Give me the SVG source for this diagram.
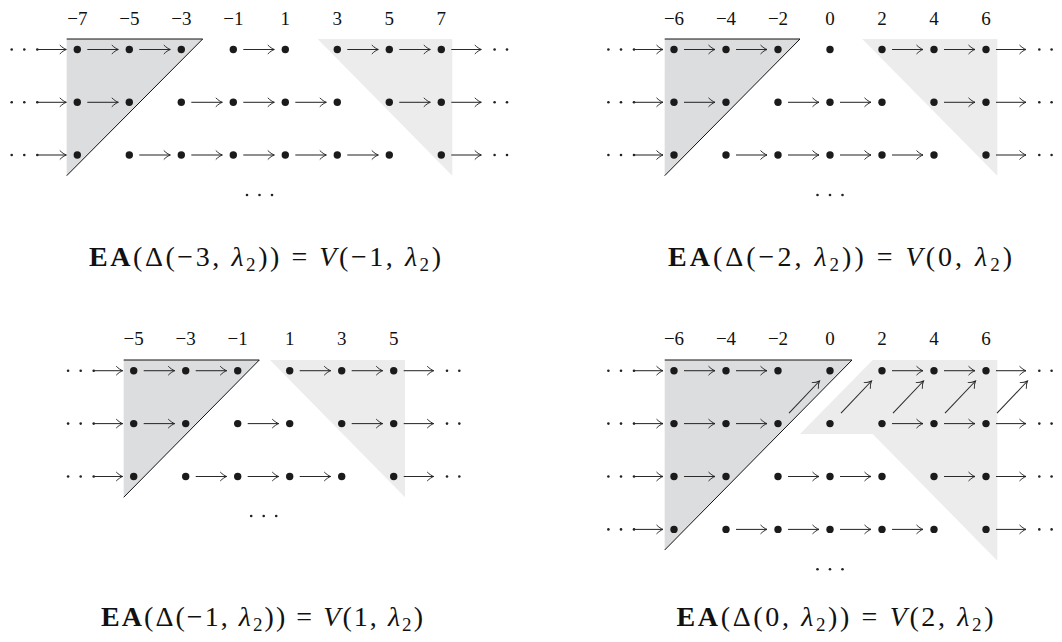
<svg xmlns="http://www.w3.org/2000/svg" width="1062" height="642" viewBox="0 0 1062 642">
<defs>
<marker id="ah" markerUnits="userSpaceOnUse" markerWidth="10" markerHeight="10" refX="0" refY="0" orient="auto" overflow="visible">
<path d="M -6.5,-4.5 C -4.4,-2.3 -1.7,-0.6 0,0 C -1.7,0.6 -4.4,2.3 -6.5,4.5" fill="none" stroke="#222" stroke-width="0.95"/>
</marker>
<style>
.dot{fill:#1b1b1b}
.sd{fill:#222}
.ar{stroke:#2a2a2a;stroke-width:1.05;fill:none;marker-end:url(#ah)}
.dk{fill:#dcdddf}
.lt{fill:#ebeceb}
.edge{stroke:#111;stroke-width:1;fill:none}
.lab{font-family:"Liberation Serif",serif;font-size:19px;fill:#111;text-anchor:middle}
.cap{font-family:"Liberation Serif",serif;font-size:28px;fill:#111;text-anchor:middle}
.b{font-weight:bold}
.i{font-style:italic}
</style>
</defs>
<rect width="1062" height="642" fill="#fff"/>

<g id="regions">
<polygon class="dk" points="66.7,39 202.7,39 66.7,175.7"/>
<polyline class="edge" points="66.7,39 202.7,39 66.7,175.7"/>
<polygon class="lt" points="317.7,39 452.3,39 452.3,175.7"/>
<polygon class="dk" points="664.7,39 800,39 664.7,175.7"/>
<polyline class="edge" points="664.7,39 800,39 664.7,175.7"/>
<polygon class="lt" points="862.3,39 997.3,39 997.3,175.7"/>
<polygon class="dk" points="123.7,360 259.3,360 123.7,497.3"/>
<polyline class="edge" points="123.7,360 259.3,360 123.7,497.3"/>
<polygon class="lt" points="270,360 405,360 405,497.3"/>
<polygon class="dk" points="664.7,360 852,360 664.7,550"/>
<polyline class="edge" points="664.7,360 852,360 664.7,550"/>
<polygon class="lt" points="872.7,360 997.3,360 997.3,560.7 872.7,434 800,434"/>
</g>

<g id="labels">
<text class="lab" x="77.3" y="25">−7</text><text class="lab" x="129.3" y="25">−5</text><text class="lab" x="181.3" y="25">−3</text><text class="lab" x="233.3" y="25">−1</text><text class="lab" x="285.3" y="25">1</text><text class="lab" x="337.3" y="25">3</text><text class="lab" x="389.3" y="25">5</text><text class="lab" x="441.3" y="25">7</text>
<text class="lab" x="674" y="25">−6</text><text class="lab" x="726" y="25">−4</text><text class="lab" x="778" y="25">−2</text><text class="lab" x="830" y="25">0</text><text class="lab" x="882" y="25">2</text><text class="lab" x="934" y="25">4</text><text class="lab" x="986" y="25">6</text>
<text class="lab" x="133.7" y="345">−5</text><text class="lab" x="185.7" y="345">−3</text><text class="lab" x="237.7" y="345">−1</text><text class="lab" x="289.7" y="345">1</text><text class="lab" x="341.7" y="345">3</text><text class="lab" x="393.7" y="345">5</text>
<text class="lab" x="674" y="345">−6</text><text class="lab" x="726" y="345">−4</text><text class="lab" x="778" y="345">−2</text><text class="lab" x="830" y="345">0</text><text class="lab" x="882" y="345">2</text><text class="lab" x="934" y="345">4</text><text class="lab" x="986" y="345">6</text>
</g>

<g id="cdots">
<circle class="sd" cx="11.7" cy="49.5" r="1.3"/><circle class="sd" cx="24.3" cy="49.5" r="1.3"/><circle class="sd" cx="37.3" cy="49.5" r="1.3"/>
<circle class="sd" cx="11.7" cy="102.3" r="1.3"/><circle class="sd" cx="24.3" cy="102.3" r="1.3"/><circle class="sd" cx="37.3" cy="102.3" r="1.3"/>
<circle class="sd" cx="11.7" cy="155" r="1.3"/><circle class="sd" cx="24.3" cy="155" r="1.3"/><circle class="sd" cx="37.3" cy="155" r="1.3"/>
<circle class="sd" cx="494.6" cy="49.5" r="1.3"/><circle class="sd" cx="507" cy="49.5" r="1.3"/>
<circle class="sd" cx="494.6" cy="102.3" r="1.3"/><circle class="sd" cx="507" cy="102.3" r="1.3"/>
<circle class="sd" cx="494.6" cy="155" r="1.3"/><circle class="sd" cx="507" cy="155" r="1.3"/>
<circle class="sd" cx="247" cy="195" r="1.3"/><circle class="sd" cx="259.5" cy="195" r="1.3"/><circle class="sd" cx="272" cy="195" r="1.3"/>

<circle class="sd" cx="608.4" cy="49.5" r="1.3"/><circle class="sd" cx="621" cy="49.5" r="1.3"/><circle class="sd" cx="634" cy="49.5" r="1.3"/>
<circle class="sd" cx="608.4" cy="102.3" r="1.3"/><circle class="sd" cx="621" cy="102.3" r="1.3"/><circle class="sd" cx="634" cy="102.3" r="1.3"/>
<circle class="sd" cx="608.4" cy="155" r="1.3"/><circle class="sd" cx="621" cy="155" r="1.3"/><circle class="sd" cx="634" cy="155" r="1.3"/>
<circle class="sd" cx="1039.3" cy="49.5" r="1.3"/><circle class="sd" cx="1051.6" cy="49.5" r="1.3"/>
<circle class="sd" cx="1039.3" cy="102.3" r="1.3"/><circle class="sd" cx="1051.6" cy="102.3" r="1.3"/>
<circle class="sd" cx="1039.3" cy="155" r="1.3"/><circle class="sd" cx="1051.6" cy="155" r="1.3"/>
<circle class="sd" cx="817.5" cy="195" r="1.3"/><circle class="sd" cx="830" cy="195" r="1.3"/><circle class="sd" cx="842.5" cy="195" r="1.3"/>

<circle class="sd" cx="68.1" cy="370.7" r="1.3"/><circle class="sd" cx="80.7" cy="370.7" r="1.3"/><circle class="sd" cx="93.7" cy="370.7" r="1.3"/>
<circle class="sd" cx="68.1" cy="423.6" r="1.3"/><circle class="sd" cx="80.7" cy="423.6" r="1.3"/><circle class="sd" cx="93.7" cy="423.6" r="1.3"/>
<circle class="sd" cx="68.1" cy="476.5" r="1.3"/><circle class="sd" cx="80.7" cy="476.5" r="1.3"/><circle class="sd" cx="93.7" cy="476.5" r="1.3"/>
<circle class="sd" cx="447" cy="370.7" r="1.3"/><circle class="sd" cx="459.3" cy="370.7" r="1.3"/>
<circle class="sd" cx="447" cy="423.6" r="1.3"/><circle class="sd" cx="459.3" cy="423.6" r="1.3"/>
<circle class="sd" cx="447" cy="476.5" r="1.3"/><circle class="sd" cx="459.3" cy="476.5" r="1.3"/>
<circle class="sd" cx="251.2" cy="516" r="1.3"/><circle class="sd" cx="263.7" cy="516" r="1.3"/><circle class="sd" cx="276.2" cy="516" r="1.3"/>

<circle class="sd" cx="608.4" cy="370.7" r="1.3"/><circle class="sd" cx="621" cy="370.7" r="1.3"/><circle class="sd" cx="634" cy="370.7" r="1.3"/>
<circle class="sd" cx="608.4" cy="423.6" r="1.3"/><circle class="sd" cx="621" cy="423.6" r="1.3"/><circle class="sd" cx="634" cy="423.6" r="1.3"/>
<circle class="sd" cx="608.4" cy="476.5" r="1.3"/><circle class="sd" cx="621" cy="476.5" r="1.3"/><circle class="sd" cx="634" cy="476.5" r="1.3"/>
<circle class="sd" cx="608.4" cy="529.4" r="1.3"/><circle class="sd" cx="621" cy="529.4" r="1.3"/><circle class="sd" cx="634" cy="529.4" r="1.3"/>
<circle class="sd" cx="1039.3" cy="370.7" r="1.3"/><circle class="sd" cx="1051.6" cy="370.7" r="1.3"/>
<circle class="sd" cx="1039.3" cy="423.6" r="1.3"/><circle class="sd" cx="1051.6" cy="423.6" r="1.3"/>
<circle class="sd" cx="1039.3" cy="476.5" r="1.3"/><circle class="sd" cx="1051.6" cy="476.5" r="1.3"/>
<circle class="sd" cx="1039.3" cy="529.4" r="1.3"/><circle class="sd" cx="1051.6" cy="529.4" r="1.3"/>
<circle class="sd" cx="817.5" cy="569.3" r="1.3"/><circle class="sd" cx="830" cy="569.3" r="1.3"/><circle class="sd" cx="842.5" cy="569.3" r="1.3"/>
</g>

<g id="connectors">
<path class="ar" d="M37.3,49.5H66.3"/><path class="ar" d="M87.3,49.5H118.3"/><path class="ar" d="M139.3,49.5H170.3"/><path class="ar" d="M243.3,49.5H274.3"/><path class="ar" d="M347.3,49.5H378.3"/><path class="ar" d="M399.3,49.5H430.3"/><path class="ar" d="M451.3,49.5H481.3"/>
<path class="ar" d="M37.3,102.3H66.3"/><path class="ar" d="M87.3,102.3H118.3"/><path class="ar" d="M191.3,102.3H222.3"/><path class="ar" d="M243.3,102.3H274.3"/><path class="ar" d="M295.3,102.3H326.3"/><path class="ar" d="M399.3,102.3H430.3"/><path class="ar" d="M451.3,102.3H481.3"/>
<path class="ar" d="M37.3,155H66.3"/><path class="ar" d="M139.3,155H170.3"/><path class="ar" d="M191.3,155H222.3"/><path class="ar" d="M243.3,155H274.3"/><path class="ar" d="M295.3,155H326.3"/><path class="ar" d="M347.3,155H378.3"/><path class="ar" d="M451.3,155H481.3"/>
<path class="ar" d="M634,49.5H663"/><path class="ar" d="M684,49.5H715"/><path class="ar" d="M736,49.5H767"/><path class="ar" d="M892,49.5H923"/><path class="ar" d="M944,49.5H975"/><path class="ar" d="M996,49.5H1026"/>
<path class="ar" d="M634,102.3H663"/><path class="ar" d="M684,102.3H715"/><path class="ar" d="M788,102.3H819"/><path class="ar" d="M840,102.3H871"/><path class="ar" d="M944,102.3H975"/><path class="ar" d="M996,102.3H1026"/>
<path class="ar" d="M634,155H663"/><path class="ar" d="M736,155H767"/><path class="ar" d="M788,155H819"/><path class="ar" d="M840,155H871"/><path class="ar" d="M892,155H923"/><path class="ar" d="M996,155H1026"/>
<path class="ar" d="M93.7,370.7H122.7"/><path class="ar" d="M143.7,370.7H174.7"/><path class="ar" d="M195.7,370.7H226.7"/><path class="ar" d="M299.7,370.7H330.7"/><path class="ar" d="M351.7,370.7H382.7"/><path class="ar" d="M403.7,370.7H433.7"/>
<path class="ar" d="M93.7,423.6H122.7"/><path class="ar" d="M143.7,423.6H174.7"/><path class="ar" d="M247.7,423.6H278.7"/><path class="ar" d="M351.7,423.6H382.7"/><path class="ar" d="M403.7,423.6H433.7"/>
<path class="ar" d="M93.7,476.5H122.7"/><path class="ar" d="M195.7,476.5H226.7"/><path class="ar" d="M247.7,476.5H278.7"/><path class="ar" d="M299.7,476.5H330.7"/><path class="ar" d="M403.7,476.5H433.7"/>
<path class="ar" d="M634,370.7H663"/><path class="ar" d="M684,370.7H715"/><path class="ar" d="M736,370.7H767"/><path class="ar" d="M892,370.7H923"/><path class="ar" d="M944,370.7H975"/><path class="ar" d="M996,370.7H1026"/>
<path class="ar" d="M634,423.6H663"/><path class="ar" d="M684,423.6H715"/><path class="ar" d="M736,423.6H767"/><path class="ar" d="M892,423.6H923"/><path class="ar" d="M944,423.6H975"/><path class="ar" d="M996,423.6H1026"/>
<path class="ar" d="M634,476.5H663"/><path class="ar" d="M684,476.5H715"/><path class="ar" d="M788,476.5H819"/><path class="ar" d="M840,476.5H871"/><path class="ar" d="M944,476.5H975"/><path class="ar" d="M996,476.5H1026"/>
<path class="ar" d="M634,529.4H663"/><path class="ar" d="M736,529.4H767"/><path class="ar" d="M788,529.4H819"/><path class="ar" d="M840,529.4H871"/><path class="ar" d="M892,529.4H923"/><path class="ar" d="M996,529.4H1026"/>
<path class="ar" d="M789,413.2L819.5,381"/><path class="ar" d="M841,413.2L871.5,381"/><path class="ar" d="M893,413.2L923.5,381"/><path class="ar" d="M945,413.2L975.5,381"/><path class="ar" d="M997,413.2L1027.5,381"/>
</g>

<g id="p1-r1-m7"><circle class="dot" cx="77.3" cy="49.5" r="3.7"/></g><g id="p1-r1-m5"><circle class="dot" cx="129.3" cy="49.5" r="3.7"/></g><g id="p1-r1-m3"><circle class="dot" cx="181.3" cy="49.5" r="3.7"/></g><g id="p1-r1-m1"><circle class="dot" cx="233.3" cy="49.5" r="3.7"/></g><g id="p1-r1-1"><circle class="dot" cx="285.3" cy="49.5" r="3.7"/></g><g id="p1-r1-3"><circle class="dot" cx="337.3" cy="49.5" r="3.7"/></g><g id="p1-r1-5"><circle class="dot" cx="389.3" cy="49.5" r="3.7"/></g><g id="p1-r1-7"><circle class="dot" cx="441.3" cy="49.5" r="3.7"/></g>
<g id="p1-r2-m7"><circle class="dot" cx="77.3" cy="102.3" r="3.7"/></g><g id="p1-r2-m5"><circle class="dot" cx="129.3" cy="102.3" r="3.7"/></g><g id="p1-r2-m3"><circle class="dot" cx="181.3" cy="102.3" r="3.7"/></g><g id="p1-r2-m1"><circle class="dot" cx="233.3" cy="102.3" r="3.7"/></g><g id="p1-r2-1"><circle class="dot" cx="285.3" cy="102.3" r="3.7"/></g><g id="p1-r2-3"><circle class="dot" cx="337.3" cy="102.3" r="3.7"/></g><g id="p1-r2-5"><circle class="dot" cx="389.3" cy="102.3" r="3.7"/></g><g id="p1-r2-7"><circle class="dot" cx="441.3" cy="102.3" r="3.7"/></g>
<g id="p1-r3-m7"><circle class="dot" cx="77.3" cy="155" r="3.7"/></g><g id="p1-r3-m5"><circle class="dot" cx="129.3" cy="155" r="3.7"/></g><g id="p1-r3-m3"><circle class="dot" cx="181.3" cy="155" r="3.7"/></g><g id="p1-r3-m1"><circle class="dot" cx="233.3" cy="155" r="3.7"/></g><g id="p1-r3-1"><circle class="dot" cx="285.3" cy="155" r="3.7"/></g><g id="p1-r3-3"><circle class="dot" cx="337.3" cy="155" r="3.7"/></g><g id="p1-r3-5"><circle class="dot" cx="389.3" cy="155" r="3.7"/></g><g id="p1-r3-7"><circle class="dot" cx="441.3" cy="155" r="3.7"/></g>

<g id="p2-r1-m6"><circle class="dot" cx="674" cy="49.5" r="3.7"/></g><g id="p2-r1-m4"><circle class="dot" cx="726" cy="49.5" r="3.7"/></g><g id="p2-r1-m2"><circle class="dot" cx="778" cy="49.5" r="3.7"/></g><g id="p2-r1-0"><circle class="dot" cx="830" cy="49.5" r="3.7"/></g><g id="p2-r1-2"><circle class="dot" cx="882" cy="49.5" r="3.7"/></g><g id="p2-r1-4"><circle class="dot" cx="934" cy="49.5" r="3.7"/></g><g id="p2-r1-6"><circle class="dot" cx="986" cy="49.5" r="3.7"/></g>
<g id="p2-r2-m6"><circle class="dot" cx="674" cy="102.3" r="3.7"/></g><g id="p2-r2-m4"><circle class="dot" cx="726" cy="102.3" r="3.7"/></g><g id="p2-r2-m2"><circle class="dot" cx="778" cy="102.3" r="3.7"/></g><g id="p2-r2-0"><circle class="dot" cx="830" cy="102.3" r="3.7"/></g><g id="p2-r2-2"><circle class="dot" cx="882" cy="102.3" r="3.7"/></g><g id="p2-r2-4"><circle class="dot" cx="934" cy="102.3" r="3.7"/></g><g id="p2-r2-6"><circle class="dot" cx="986" cy="102.3" r="3.7"/></g>
<g id="p2-r3-m6"><circle class="dot" cx="674" cy="155" r="3.7"/></g><g id="p2-r3-m4"><circle class="dot" cx="726" cy="155" r="3.7"/></g><g id="p2-r3-m2"><circle class="dot" cx="778" cy="155" r="3.7"/></g><g id="p2-r3-0"><circle class="dot" cx="830" cy="155" r="3.7"/></g><g id="p2-r3-2"><circle class="dot" cx="882" cy="155" r="3.7"/></g><g id="p2-r3-4"><circle class="dot" cx="934" cy="155" r="3.7"/></g><g id="p2-r3-6"><circle class="dot" cx="986" cy="155" r="3.7"/></g>

<g id="p3-r1-m5"><circle class="dot" cx="133.7" cy="370.7" r="3.7"/></g><g id="p3-r1-m3"><circle class="dot" cx="185.7" cy="370.7" r="3.7"/></g><g id="p3-r1-m1"><circle class="dot" cx="237.7" cy="370.7" r="3.7"/></g><g id="p3-r1-1"><circle class="dot" cx="289.7" cy="370.7" r="3.7"/></g><g id="p3-r1-3"><circle class="dot" cx="341.7" cy="370.7" r="3.7"/></g><g id="p3-r1-5"><circle class="dot" cx="393.7" cy="370.7" r="3.7"/></g>
<g id="p3-r2-m5"><circle class="dot" cx="133.7" cy="423.6" r="3.7"/></g><g id="p3-r2-m3"><circle class="dot" cx="185.7" cy="423.6" r="3.7"/></g><g id="p3-r2-m1"><circle class="dot" cx="237.7" cy="423.6" r="3.7"/></g><g id="p3-r2-1"><circle class="dot" cx="289.7" cy="423.6" r="3.7"/></g><g id="p3-r2-3"><circle class="dot" cx="341.7" cy="423.6" r="3.7"/></g><g id="p3-r2-5"><circle class="dot" cx="393.7" cy="423.6" r="3.7"/></g>
<g id="p3-r3-m5"><circle class="dot" cx="133.7" cy="476.5" r="3.7"/></g><g id="p3-r3-m3"><circle class="dot" cx="185.7" cy="476.5" r="3.7"/></g><g id="p3-r3-m1"><circle class="dot" cx="237.7" cy="476.5" r="3.7"/></g><g id="p3-r3-1"><circle class="dot" cx="289.7" cy="476.5" r="3.7"/></g><g id="p3-r3-3"><circle class="dot" cx="341.7" cy="476.5" r="3.7"/></g><g id="p3-r3-5"><circle class="dot" cx="393.7" cy="476.5" r="3.7"/></g>

<g id="p4-r1-m6"><circle class="dot" cx="674" cy="370.7" r="3.7"/></g><g id="p4-r1-m4"><circle class="dot" cx="726" cy="370.7" r="3.7"/></g><g id="p4-r1-m2"><circle class="dot" cx="778" cy="370.7" r="3.7"/></g><g id="p4-r1-0"><circle class="dot" cx="830" cy="370.7" r="3.7"/></g><g id="p4-r1-2"><circle class="dot" cx="882" cy="370.7" r="3.7"/></g><g id="p4-r1-4"><circle class="dot" cx="934" cy="370.7" r="3.7"/></g><g id="p4-r1-6"><circle class="dot" cx="986" cy="370.7" r="3.7"/></g>
<g id="p4-r2-m6"><circle class="dot" cx="674" cy="423.6" r="3.7"/></g><g id="p4-r2-m4"><circle class="dot" cx="726" cy="423.6" r="3.7"/></g><g id="p4-r2-m2"><circle class="dot" cx="778" cy="423.6" r="3.7"/></g><g id="p4-r2-0"><circle class="dot" cx="830" cy="423.6" r="3.7"/></g><g id="p4-r2-2"><circle class="dot" cx="882" cy="423.6" r="3.7"/></g><g id="p4-r2-4"><circle class="dot" cx="934" cy="423.6" r="3.7"/></g><g id="p4-r2-6"><circle class="dot" cx="986" cy="423.6" r="3.7"/></g>
<g id="p4-r3-m6"><circle class="dot" cx="674" cy="476.5" r="3.7"/></g><g id="p4-r3-m4"><circle class="dot" cx="726" cy="476.5" r="3.7"/></g><g id="p4-r3-m2"><circle class="dot" cx="778" cy="476.5" r="3.7"/></g><g id="p4-r3-0"><circle class="dot" cx="830" cy="476.5" r="3.7"/></g><g id="p4-r3-2"><circle class="dot" cx="882" cy="476.5" r="3.7"/></g><g id="p4-r3-4"><circle class="dot" cx="934" cy="476.5" r="3.7"/></g><g id="p4-r3-6"><circle class="dot" cx="986" cy="476.5" r="3.7"/></g>
<g id="p4-r4-m6"><circle class="dot" cx="674" cy="529.4" r="3.7"/></g><g id="p4-r4-m4"><circle class="dot" cx="726" cy="529.4" r="3.7"/></g><g id="p4-r4-m2"><circle class="dot" cx="778" cy="529.4" r="3.7"/></g><g id="p4-r4-0"><circle class="dot" cx="830" cy="529.4" r="3.7"/></g><g id="p4-r4-2"><circle class="dot" cx="882" cy="529.4" r="3.7"/></g><g id="p4-r4-4"><circle class="dot" cx="934" cy="529.4" r="3.7"/></g><g id="p4-r4-6"><circle class="dot" cx="986" cy="529.4" r="3.7"/></g>

<g id="captions">
<text class="cap" x="265" y="266" textLength="352" lengthAdjust="spacing"><tspan class="b">EA</tspan>(Δ(−3, <tspan class="i">λ</tspan><tspan font-size="19" dy="5">2</tspan><tspan dy="-5">)) = </tspan><tspan class="i">V</tspan>(−1, <tspan class="i">λ</tspan><tspan font-size="19" dy="5">2</tspan><tspan dy="-5">)</tspan></text>
<text class="cap" x="840" y="266" textLength="344" lengthAdjust="spacing"><tspan class="b">EA</tspan>(Δ(−2, <tspan class="i">λ</tspan><tspan font-size="19" dy="5">2</tspan><tspan dy="-5">)) = </tspan><tspan class="i">V</tspan>(0, <tspan class="i">λ</tspan><tspan font-size="19" dy="5">2</tspan><tspan dy="-5">)</tspan></text>
<text class="cap" x="262" y="626" textLength="322" lengthAdjust="spacing"><tspan class="b">EA</tspan>(Δ(−1, <tspan class="i">λ</tspan><tspan font-size="19" dy="5">2</tspan><tspan dy="-5">)) = </tspan><tspan class="i">V</tspan>(1, <tspan class="i">λ</tspan><tspan font-size="19" dy="5">2</tspan><tspan dy="-5">)</tspan></text>
<text class="cap" x="835" y="626" textLength="317" lengthAdjust="spacing"><tspan class="b">EA</tspan>(Δ(0, <tspan class="i">λ</tspan><tspan font-size="19" dy="5">2</tspan><tspan dy="-5">)) = </tspan><tspan class="i">V</tspan>(2, <tspan class="i">λ</tspan><tspan font-size="19" dy="5">2</tspan><tspan dy="-5">)</tspan></text>
</g>
</svg>
